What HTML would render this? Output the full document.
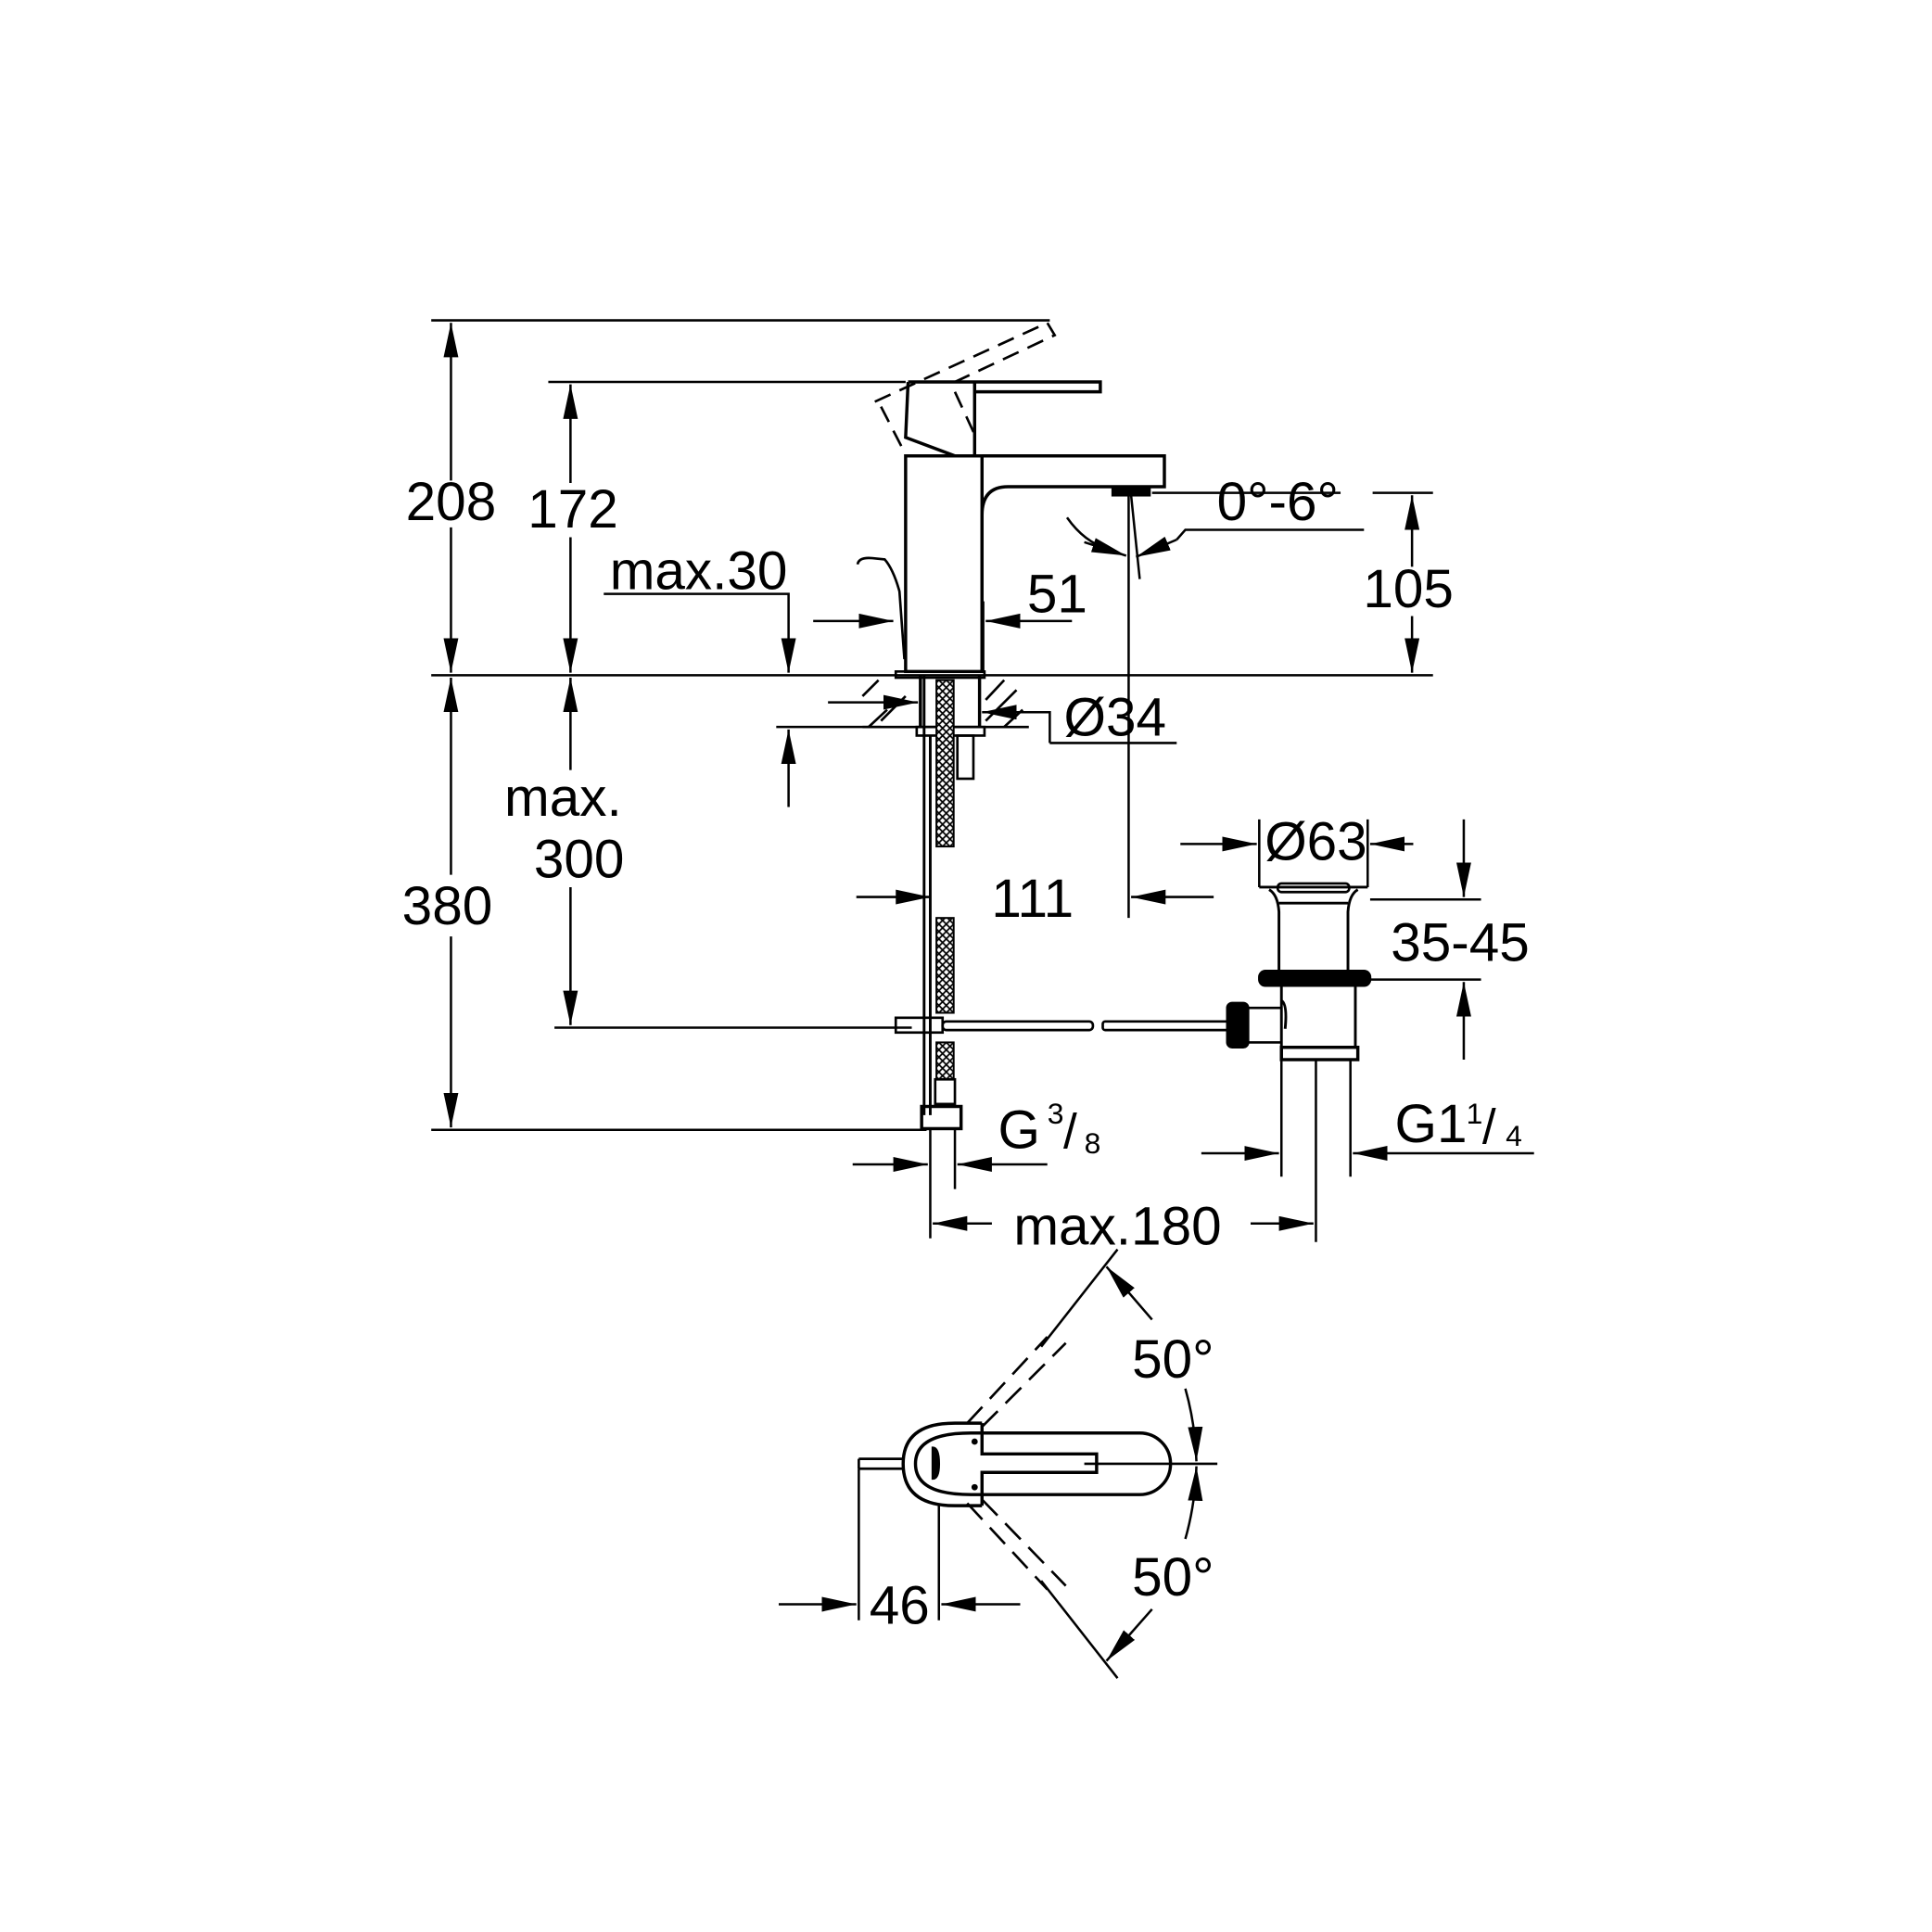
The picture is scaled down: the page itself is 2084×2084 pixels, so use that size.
<!DOCTYPE html>
<html><head><meta charset="utf-8"><style>
html,body{margin:0;padding:0;background:#fff;}
svg{display:block;}
text{font-family:"Liberation Sans",Arial,sans-serif;fill:#000;}
</style></head><body>
<svg width="2084" height="2084" viewBox="0 0 1568 1568" xmlns="http://www.w3.org/2000/svg">
<defs>
<marker id="a" markerUnits="userSpaceOnUse" markerWidth="30" markerHeight="14" refX="28" refY="6" orient="auto">
<path d="M0,0 L28,6 L0,12 Z" fill="#000"/>
</marker>
<pattern id="h" width="6" height="6" patternUnits="userSpaceOnUse">
<rect width="6" height="6" fill="#fff"/><path d="M0,0L6,6M6,0L0,6" stroke="#000" stroke-width="1.3"/>
</pattern>
</defs>
<g stroke="#000" stroke-width="1.9" fill="none">
<line x1="350" y1="260" x2="852" y2="260"/>
<line x1="445" y1="310" x2="735" y2="310"/>
<line x1="350" y1="548" x2="1163" y2="548"/>
<line x1="350" y1="917" x2="752" y2="917"/>
<line x1="450" y1="834" x2="740" y2="834"/>
<line x1="366" y1="390" x2="366" y2="262" marker-end="url(#a)"/>
<line x1="366" y1="428" x2="366" y2="546" marker-end="url(#a)"/>
<line x1="463" y1="392" x2="463" y2="312" marker-end="url(#a)"/>
<line x1="463" y1="436" x2="463" y2="546" marker-end="url(#a)"/>
<line x1="366" y1="710" x2="366" y2="550" marker-end="url(#a)"/>
<line x1="366" y1="760" x2="366" y2="915" marker-end="url(#a)"/>
<line x1="463" y1="625" x2="463" y2="550" marker-end="url(#a)"/>
<line x1="463" y1="720" x2="463" y2="832" marker-end="url(#a)"/>
<polyline points="490,482 640,482 640,546" marker-end="url(#a)"/>
<line x1="640" y1="655" x2="640" y2="592" marker-end="url(#a)"/>
<line x1="630" y1="590" x2="715" y2="590"/>
<line x1="660" y1="504" x2="725" y2="504" marker-end="url(#a)"/>
<line x1="870" y1="504" x2="800" y2="504" marker-end="url(#a)"/>
<line x1="798" y1="488" x2="798" y2="545"/>
<line x1="916" y1="402" x2="916" y2="745"/>
<line x1="935" y1="400" x2="1088" y2="400"/>
<line x1="1114" y1="400" x2="1163" y2="400"/>
<line x1="1146" y1="460" x2="1146" y2="402" marker-end="url(#a)"/>
<line x1="1146" y1="500" x2="1146" y2="546" marker-end="url(#a)"/>
<path d="M866,420 Q880,440 900,446" />
<line x1="880" y1="440" x2="914" y2="451" marker-end="url(#a)"/>
<polyline points="1107,430 962,430 955,438"/>
<line x1="955" y1="438" x2="922" y2="452" marker-end="url(#a)"/>
<line x1="918" y1="402" x2="925" y2="470"/>
<rect x="735" y="370" width="62" height="175" stroke-width="2.6"/>
<path d="M797,370 H945 V395 H818 Q797,395 797,418" stroke-width="2.6"/>
<line x1="797" y1="418" x2="797" y2="545" stroke-width="2.6"/>
<path d="M737,310 H791 V370 M737,310 L735,355 L775,370 M791,318 H893 V310 H791" stroke-width="2.6"/>
<rect x="903" y="395" width="30" height="7" fill="#000"/>
<path d="M710,326 L850,262 L856,272 L775,310 M715,330 L733,365 M775,318 L793,357" stroke-dasharray="14,8" stroke-width="2"/>
<path d="M696,458 Q697,452 708,453 L718,454 Q725,462 730,480 L734,535" stroke-width="2"/>
<rect x="727" y="545" width="72" height="5" stroke-width="2"/>
<line x1="700" y1="590" x2="835" y2="590" stroke-width="2"/>
<path d="M700,565L713,552 M715,585L735,565 M705,590L720,576 M800,568L815,552 M800,585L825,560 M815,590L830,576" stroke-width="2"/>
<line x1="747" y1="548" x2="747" y2="590" stroke-width="2.6"/>
<line x1="795" y1="548" x2="795" y2="590" stroke-width="2.6"/>
<line x1="672" y1="570" x2="745" y2="570" marker-end="url(#a)"/>
<polyline points="852,603 852,578 800,578" />
<line x1="815" y1="578" x2="797" y2="578" marker-end="url(#a)"/>
<line x1="852" y1="603" x2="955" y2="603"/>
<rect x="744" y="590" width="55" height="7" stroke-width="2"/>
<rect x="777" y="597" width="13" height="35" stroke-width="2"/>
<line x1="750" y1="548" x2="750" y2="905" stroke-width="2.2"/>
<line x1="755" y1="597" x2="755" y2="905" stroke-width="2.2"/>
<rect x="760" y="552" width="14" height="135" fill="url(#h)" stroke-width="1.5"/>
<rect x="760" y="745" width="14" height="77" fill="url(#h)" stroke-width="1.5"/>
<rect x="760" y="846" width="14" height="30" fill="url(#h)" stroke-width="1.5"/>
<rect x="759" y="876" width="16" height="20" stroke-width="2"/>
<rect x="748" y="898" width="32" height="18" stroke-width="2.6"/>
<line x1="755" y1="917" x2="755" y2="1005"/>
<line x1="775" y1="917" x2="775" y2="965"/>
<line x1="695" y1="728" x2="755" y2="728" marker-end="url(#a)"/>
<line x1="985" y1="728" x2="918" y2="728" marker-end="url(#a)"/>
<rect x="727" y="826" width="38" height="12" stroke-width="2"/>
<rect x="765" y="829" width="122" height="7" rx="3" stroke-width="2"/>
<rect x="895" y="829" width="105" height="7" rx="2" stroke-width="2"/>
<line x1="692" y1="945" x2="753" y2="945" marker-end="url(#a)"/>
<line x1="850" y1="945" x2="777" y2="945" marker-end="url(#a)"/>
<line x1="805" y1="993" x2="757" y2="993" marker-end="url(#a)"/>
<line x1="1015" y1="993" x2="1066" y2="993" marker-end="url(#a)"/>
<line x1="1068" y1="860" x2="1068" y2="1008"/>
<line x1="1022" y1="665" x2="1022" y2="720"/>
<line x1="1110" y1="665" x2="1110" y2="720"/>
<line x1="958" y1="685" x2="1020" y2="685" marker-end="url(#a)"/>
<line x1="1147" y1="685" x2="1112" y2="685" marker-end="url(#a)"/>
<path d="M1022,720 H1110 M1030,722 Q1037,726 1038,740 V790 M1102,722 Q1095,726 1094,740 V790 M1038,733 H1094" stroke-width="2.2"/>
<rect x="1037" y="717" width="58" height="7" rx="3" stroke-width="2"/>
<rect x="1022" y="788" width="90" height="12" rx="5" fill="#000"/>
<path d="M1040,800 V860 M1100,800 V850 M1040,812 Q1045,815 1043,835" stroke-width="2.2"/>
<rect x="1040" y="850" width="62" height="10" stroke-width="2.6"/>
<path d="M1003,818 H1040 M1003,846 H1040" stroke-width="2"/>
<rect x="996" y="814" width="17" height="36" rx="4" fill="#000"/>
<line x1="1040" y1="860" x2="1040" y2="955"/>
<line x1="1096" y1="860" x2="1096" y2="955"/>
<line x1="1112" y1="730" x2="1202" y2="730"/>
<line x1="1112" y1="795" x2="1202" y2="795"/>
<line x1="1188" y1="665" x2="1188" y2="728" marker-end="url(#a)"/>
<line x1="1188" y1="860" x2="1188" y2="797" marker-end="url(#a)"/>
<line x1="975" y1="936" x2="1038" y2="936" marker-end="url(#a)"/>
<line x1="1245" y1="936" x2="1098" y2="936" marker-end="url(#a)"/>
<!-- plan view -->
<path d="M797,1155 H775 Q733,1155 733,1188 Q733,1222 775,1222 H797" stroke-width="2.6"/>
<path d="M797,1163 H788 Q743,1163 743,1188 Q743,1213 788,1213 H797" stroke-width="2.6"/>
<path d="M797,1163 H925 A25,25 0 0 1 925,1213 H797" stroke-width="2.6"/>
<path d="M797,1155 V1180 H890 V1195 H797 V1222" stroke-width="2.6"/>
<path d="M757,1175 Q762,1175 762,1188 Q762,1200 757,1200 Z" fill="#000"/>
<circle cx="791" cy="1170" r="1.6" fill="#000"/>
<circle cx="791" cy="1207" r="1.6" fill="#000"/>
<path d="M697,1184 H733 M697,1192 H733 M697,1184 V1192" stroke-width="2"/>
<line x1="880" y1="1188" x2="988" y2="1188"/>
<line x1="697" y1="1192" x2="697" y2="1315"/>
<line x1="762" y1="1222" x2="762" y2="1315"/>
<line x1="632" y1="1302" x2="695" y2="1302" marker-end="url(#a)"/>
<line x1="828" y1="1302" x2="764" y2="1302" marker-end="url(#a)"/>
<path d="M785,1155 L850,1085 M797,1158 L865,1090 M785,1220 L850,1290 M797,1217 L865,1287" stroke-dasharray="18,9" stroke-width="2"/>
<line x1="845" y1="1093" x2="907" y2="1014"/>
<line x1="845" y1="1283" x2="907" y2="1362"/>
<line x1="935" y1="1071" x2="898" y2="1028" marker-end="url(#a)"/>
<line x1="935" y1="1306" x2="898" y2="1348" marker-end="url(#a)"/>
<path d="M962,1127 Q970,1155 971,1186" marker-end="url(#a)"/>
<path d="M962,1249 Q970,1221 971,1190" marker-end="url(#a)"/>
</g>
<g font-size="44">
<text x="366" y="422" text-anchor="middle">208</text>
<text x="465" y="428" text-anchor="middle">172</text>
<text x="567" y="478" text-anchor="middle">max.30</text>
<text x="858" y="497" text-anchor="middle">51</text>
<text x="1037" y="422" text-anchor="middle">0°-6°</text>
<text x="1143" y="493" text-anchor="middle">105</text>
<text x="905" y="597" text-anchor="middle">Ø34</text>
<text x="457" y="662" text-anchor="middle">max.</text>
<text x="470" y="712" text-anchor="middle">300</text>
<text x="363" y="750" text-anchor="middle">380</text>
<text x="838" y="744" text-anchor="middle">111</text>
<text x="1068" y="698" text-anchor="middle">Ø63</text>
<text x="1185" y="780" text-anchor="middle">35-45</text>
<text x="1132" y="927">G1</text>
<text x="1190" y="912" font-size="24">1</text>
<text x="1203" y="928" font-size="40">/</text>
<text x="1222" y="930" font-size="24">4</text>
<text x="810" y="932">G</text>
<text x="850" y="912" font-size="24">3</text>
<text x="863" y="932" font-size="40">/</text>
<text x="880" y="936" font-size="24">8</text>
<text x="907" y="1010" text-anchor="middle">max.180</text>
<text x="952" y="1118" text-anchor="middle">50°</text>
<text x="952" y="1295" text-anchor="middle">50°</text>
<text x="730" y="1318" text-anchor="middle">46</text>
</g>
</svg>
</body></html>
